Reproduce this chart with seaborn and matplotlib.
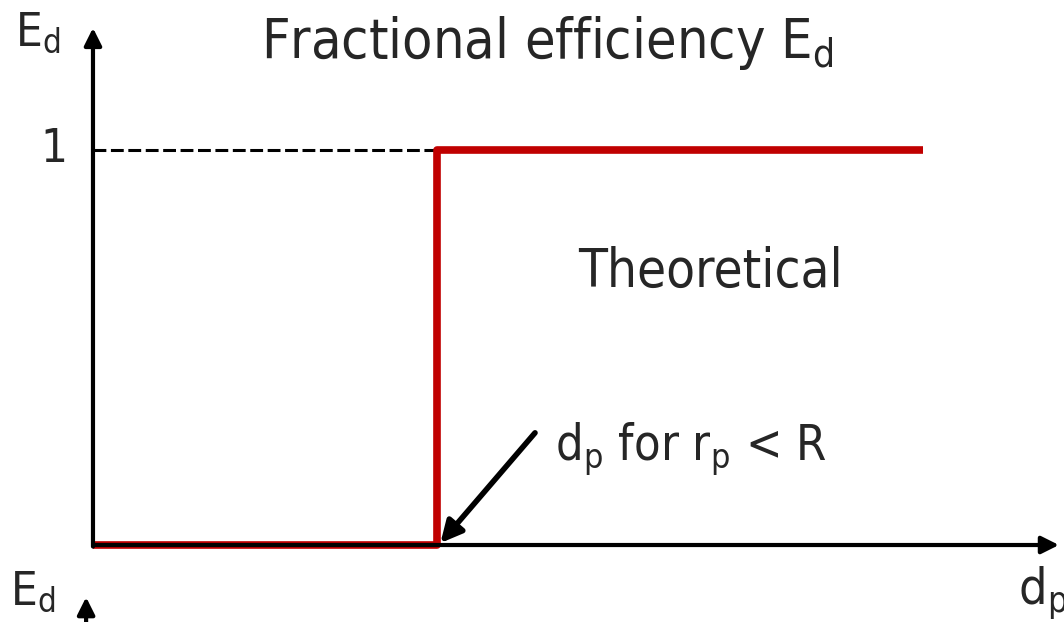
import numpy as np
import pandas as pd
import seaborn as sns
import matplotlib.pyplot as plt

sns.set_theme(style="white")
plt.rcParams['font.family'] = ['DejaVu Sans']
plt.rcParams['font.stretch'] = 'condensed'
plt.rcParams['mathtext.fontset'] = 'custom'
plt.rcParams['mathtext.rm'] = 'DejaVu Sans:stretch=condensed'
plt.rcParams['mathtext.default'] = 'rm'

# theoretical step curve (cut size at dp = 1)
dp = [0, 1, 1, 2.413]
Ed = [0, 0, 1, 1]
x_end = 2.808     # end of the dp axis arrow
y_end = 1.309     # end of the Ed axis arrow

txt = '#262626'
red = '#C00000'

fig = plt.figure(figsize=(10.64, 6.22), dpi=100)
ax = fig.add_axes([0, 0, 1, 1])
ax.set_xlim(-0.2703, 2.8227)
ax.set_ylim(-0.1949, 1.3797)
ax.axis('off')

df = pd.DataFrame({'dp': dp, 'Ed': Ed})
sns.lineplot(data=df, x='dp', y='Ed', sort=False, estimator=None,
             color=red, lw=5.5, ax=ax, solid_capstyle='butt', zorder=3)

# dashed guide to 1
ax.plot([0, 1], [1, 1], ls=(0, (4.2, 1.5)), color='black', lw=2.2, zorder=2)

# axes with arrows
arr = dict(arrowstyle='-|>', color='black', lw=3.0, mutation_scale=26, shrinkA=0, shrinkB=0)
ax.annotate('', xy=(0, y_end), xytext=(0, -0.004), arrowprops=arr)
ax.annotate('', xy=(x_end, 0), xytext=(0, 0), arrowprops=arr)
# start of the next diagram's axis (cut off)
ax.annotate('', xy=(-0.020, -0.132), xytext=(-0.020, -0.25), arrowprops=arr, annotation_clip=False)

ax.text(-0.0756, 1.0, '1', ha='right', va='center', fontsize=34, color=txt)
ax.text(-0.160, 1.296, 'E$_d$', ha='center', va='center', fontsize=34, color=txt)
ax.text(-0.174, -0.119, 'E$_d$', ha='center', va='center', fontsize=34, color=txt)
ax.text(2.689, -0.122, 'd$_p$', ha='left', va='center', fontsize=36, color=txt)
ax.text(1.320, 1.271, 'Fractional efficiency E$_d$', ha='center', va='center', fontsize=40, color=txt)
ax.text(1.794, 0.691, 'Theoretical', ha='center', va='center', fontsize=38, color=txt)

ax.text(1.343, 0.243, 'd$_p$ for r$_p$ < R', ha='left', va='center', fontsize=35, color=txt)
ax.annotate('', xy=(1.01, 0.005), xytext=(1.285, 0.284),
            arrowprops=dict(arrowstyle='-|>', color='black', lw=4, mutation_scale=32,
                            shrinkA=0, shrinkB=0))

fig.savefig('out.png', dpi=100)
